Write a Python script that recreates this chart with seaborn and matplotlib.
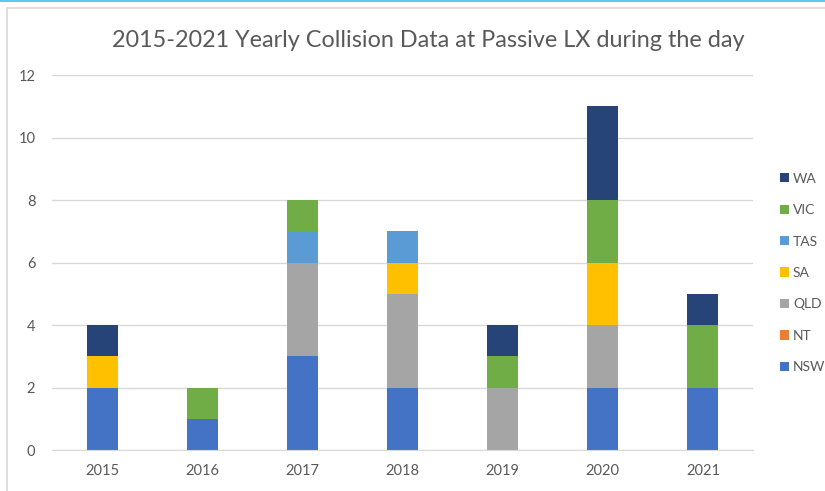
import pandas as pd
import seaborn as sns
import matplotlib.pyplot as plt
from matplotlib.patches import Rectangle

# collisions per state per year
years = [2015, 2016, 2017, 2018, 2019, 2020, 2021]
nsw = [2, 1, 3, 2, 0, 2, 2]
nt = [0, 0, 0, 0, 0, 0, 0]
qld = [0, 0, 3, 3, 2, 2, 0]
sa = [1, 0, 0, 1, 0, 2, 0]
tas = [0, 0, 1, 1, 0, 0, 0]
vic = [0, 1, 1, 0, 1, 2, 2]
wa = [1, 0, 0, 0, 1, 3, 1]

states = ["WA", "VIC", "TAS", "SA", "QLD", "NT", "NSW"]
colors = ["#264478", "#70AD47", "#5B9BD5", "#FFC000", "#A5A5A5", "#ED7D31", "#4472C4"]
series = {"NSW": nsw, "NT": nt, "QLD": qld, "SA": sa, "TAS": tas, "VIC": vic, "WA": wa}

rows = []
for st, vals in series.items():
    for y, v in zip(years, vals):
        rows.append({"year": y, "state": st, "count": v})
df = pd.DataFrame(rows)

sns.set_style("white")
plt.rcParams["font.family"] = ["Lato", "DejaVu Sans"]

fig = plt.figure(figsize=(8.25, 4.91), dpi=100)
ax = fig.add_axes([0.063, 0.0835, 0.8497, 0.7637])

# chart frame like the screenshot
fig.patches.append(Rectangle((7 / 825, -0.1), 1.2, 1 - 8 / 491 + 0.1, transform=fig.transFigure,
                             fill=False, edgecolor="#d9d9d9", linewidth=1.2))
fig.patches.append(Rectangle((0, 1 - 2 / 491), 1, 2 / 491, transform=fig.transFigure,
                             facecolor="#5ec8f0", edgecolor="none"))

sns.histplot(data=df, x="year", hue="state", weights="count", multiple="stack",
             discrete=True, shrink=0.31, hue_order=states, palette=colors,
             alpha=1, linewidth=0, ax=ax, legend=True)

ax.set_xlim(2014.5, 2021.5)
ax.set_ylim(0, 12)
ax.set_yticks(range(0, 13, 2))
ax.set_xticks(years)
ax.set_xticks([y + 0.5 for y in [2014] + years], minor=True)
ax.tick_params(axis="x", which="major", length=0, pad=10, labelsize=10.5, labelcolor="#595959")
ax.tick_params(axis="x", which="minor", length=5, color="#d9d9d9", direction="out")
ax.tick_params(axis="y", length=0, pad=12, labelsize=10.5, labelcolor="#595959")
ax.grid(axis="y", color="#d9d9d9", linewidth=1)
ax.set_axisbelow(True)
for s in ["top", "right", "left"]:
    ax.spines[s].set_visible(False)
ax.spines["bottom"].set_color("#d9d9d9")
ax.set_xlabel("")
ax.set_ylabel("")

sns.move_legend(ax, loc="center left", bbox_to_anchor=(0.93, 0.444), frameon=False,
                title=None, fontsize=10, labelspacing=1.4, handlelength=0.65,
                handleheight=0.65, handletextpad=0.3, bbox_transform=fig.transFigure)
for t in ax.get_legend().get_texts():
    t.set_color("#595959")

fig.text(0.519, 0.918, "2015-2021 Yearly Collision Data at Passive LX during the day",
         ha="center", va="center", fontsize=16.8, color="#595959")

fig.savefig("out.png", dpi=100)
